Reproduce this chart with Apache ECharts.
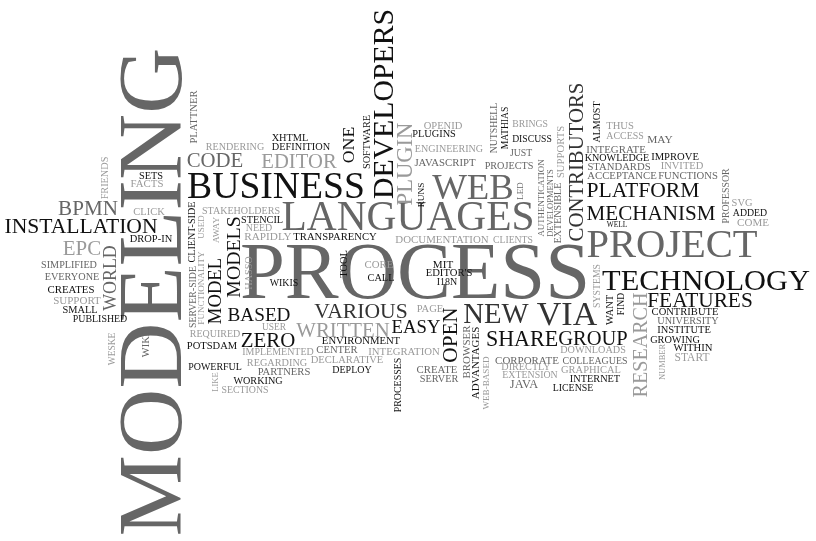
<!DOCTYPE html>
<html><head><meta charset="utf-8">
<script src="https://cdn.jsdelivr.net/npm/echarts@6/dist/echarts.min.js"></script>
<style>html,body{margin:0;padding:0;background:#fff}#c{width:816px;height:541px}</style>
</head><body><div id="c"></div>
<script>
// Word cloud terms
const words = [
 "MODELING","PROCESS","LANGUAGES","BUSINESS","DEVELOPERS","TECHNOLOGY","PROJECT","CONTRIBUTORS","WEB","INSTALLATION",
 "MECHANISM","PLATFORM","RESEARCH","FEATURES","NEW","VIA","VARIOUS","WRITTEN","EASY","OPEN",
 "SHARE","GROUP","ZERO","BASED","MODEL","MODELS","EDITOR","CODE","PLUGIN","ONE",
 "WORLD","EPC","BPMN","PLATTNER","RENDERING","XHTML","DEFINITION","SOFTWARE","OPENID","PLUGINS",
 "ENGINEERING","JAVASCRIPT","RUNS","NUTSHELL","MATHIAS","BRINGS","DISCUSS","JUST","PROJECTS","LED",
 "AUTHENTICATION","DEVELOPMENTS","EXTENSIBLE","SUPPORTS","ALMOST","THUS","ACCESS","MAY","INTEGRATE","KNOWLEDGE",
 "IMPROVE","STANDARDS","INVITED","ACCEPTANCE","FUNCTIONS","PROFESSOR","SVG","ADDED","COME","WELL",
 "SYSTEMS","WANT","FIND","CONTRIBUTE","UNIVERSITY","INSTITUTE","GROWING","WITHIN","START","NUMBER",
 "DOWNLOADS","COLLEAGUES","GRAPHICAL","INTERNET","LICENSE","CORPORATE","DIRECTLY","EXTENSION","JAVA","ADVANTAGES",
 "WEB-BASED","BROWSER","PAGE","ENVIRONMENT","CENTER","INTEGRATION","DECLARATIVE","DEPLOY","PROCESSES","CREATE",
 "SERVER","MIT","EDITOR'S","I18N","CORE","CALL","TOOL","WIKIS","TRANSPARENCY","DOCUMENTATION",
 "CLIENTS","STAKEHOLDERS","STENCIL","NEED","RAPIDLY","HASSO","AWAY","USED","CLIENT-SIDE","FUNCTIONALITY",
 "SERVER-SIDE","USER","REQUIRED","POTSDAM","IMPLEMENTED","POWERFUL","REGARDING","PARTNERS","WORKING","SECTIONS",
 "LIKE","WIKI","WESKE","FRIENDS","SETS","FACTS","CLICK","DROP-IN","SIMPLIFIED","EVERYONE",
 "CREATES","SUPPORT","SMALL","PUBLISHED"
];
// Layout of each word: [centre x, centre y, ink length, rotation, tone]
const layout = [
 [152,292,485,90,"M"],[415,272,344,0,"M"],[408,217,250,0,"M"],[276,186,175,0,"D"],[383,104,188,90,"D"],
 [706,280,207,0,"D"],[672,244,170,0,"M"],[576,162,157,90,"K"],[473,187,80,0,"M"],[81,226,152,0,"D"],
 [651,213,128,0,"D"],[643,190,112,0,"D"],[641,345,104,90,"L"],[700,300,104,0,"D"],[496,314,65,0,"K"],
 [567,314,60,0,"K"],[361,311,92,0,"K"],[343,330,93,0,"L"],[416,327,48,0,"D"],[450,335,54,90,"D"],
 [522,339,70,0,"D"],[593,338,68,0,"D"],[268,340,53,0,"D"],[259,315,62,0,"D"],[215,291,65,90,"D"],
 [234,257,80,90,"D"],[299,161,75,0,"L"],[215,160,55,0,"M"],[405,164,82,90,"L"],[348,145,35,90,"D"],
 [110,278,65,90,"M"],[82,248,37,0,"L"],[88,208,59,0,"M"],[194,117,53,90,"M"],[235,147,58,0,"L"],
 [290,138,36,0,"D"],[301,147,58,0,"D"],[367,142,53,90,"D"],[443,126,38,0,"L"],[434,134,43,0,"D"],
 [449,149,68,0,"L"],[445,163,61,0,"M"],[421,195,24,90,"D"],[494,128,50,90,"M"],[505,128,42,90,"D"],
 [530,124,35,0,"L"],[532,139,39,0,"D"],[521,153,22,0,"M"],[509,166,48,0,"M"],[520,191,17,90,"M"],
 [541,198,77,90,"M"],[550,203,67,90,"M"],[558,213,60,90,"M"],[561,152,51,90,"L"],[597,122,41,90,"D"],
 [620,126,27,0,"L"],[625,136,37,0,"L"],[660,139,25,0,"M"],[616,150,59,0,"M"],[617,158,64,0,"D"],
 [675,157,47,0,"D"],[619,167,62,0,"M"],[682,166,42,0,"L"],[622,176,69,0,"M"],[688,176,59,0,"M"],
 [726,196,55,90,"M"],[742,203,20,0,"L"],[750,213,34,0,"D"],[753,222,31,0,"L"],[617,225,20,0,"D"],
 [597,286,43,90,"L"],[610,310,30,90,"D"],[621,304,22,90,"D"],[685,312,66,0,"D"],[688,321,61,0,"M"],
 [684,330,53,0,"D"],[675,340,49,0,"D"],[693,348,39,0,"D"],[692,357,34,0,"L"],[662,362,36,90,"L"],
 [593,350,65,0,"L"],[595,361,64,0,"M"],[591,370,59,0,"L"],[595,379,50,0,"D"],[573,388,40,0,"D"],
 [527,360,63,0,"M"],[526,367,49,0,"L"],[530,375,55,0,"L"],[524,384,28,0,"M"],[475,363,72,90,"D"],
 [486,383,53,90,"L"],[466,352,53,90,"M"],[430,309,26,0,"L"],[361,341,78,0,"D"],[337,350,41,0,"M"],
 [404,352,71,0,"L"],[347,360,72,0,"L"],[352,370,39,0,"D"],[398,385,54,90,"D"],[437,370,40,0,"M"],
 [439,379,38,0,"M"],[443,264,20,0,"D"],[449,273,46,0,"D"],[447,282,20,0,"D"],[379,265,28,0,"L"],
 [381,278,26,0,"D"],[344,264,27,90,"D"],[284,283,28,0,"D"],[335,237,83,0,"D"],[442,240,93,0,"L"],
 [513,240,39,0,"L"],[241,211,77,0,"L"],[262,220,41,0,"D"],[259,228,26,0,"L"],[268,236,47,0,"L"],
 [249,273,33,90,"L"],[216,230,26,90,"L"],[201,227,23,90,"L"],[192,232,60,90,"D"],[201,288,73,90,"L"],
 [193,297,61,90,"M"],[274,327,24,0,"L"],[215,334,50,0,"L"],[212,346,50,0,"D"],[278,352,71,0,"L"],
 [215,367,53,0,"D"],[277,363,60,0,"L"],[284,372,52,0,"M"],[258,381,49,0,"D"],[245,390,46,0,"L"],
 [215,382,19,90,"L"],[146,345,24,90,"M"],[112,349,32,90,"L"],[105,178,42,90,"L"],[151,176,23,0,"D"],
 [147,184,32,0,"L"],[149,212,31,0,"L"],[151,239,42,0,"D"],[69,265,55,0,"M"],[72,277,54,0,"M"],
 [71,290,46,0,"D"],[77,300,47,0,"L"],[80,310,34,0,"D"],[100,319,54,0,"D"]
];
const tones = { D: "#111111", K: "#333333", M: "#666666", L: "#9a9a9a" };
const FONT = '"Liberation Serif", "DejaVu Serif", serif';

const ctx = document.createElement('canvas').getContext('2d');
ctx.font = '100px ' + FONT;
ctx.textBaseline = 'middle';
function inkWidth(t) {
  const m = ctx.measureText(t);
  const w = (m.actualBoundingBoxLeft || 0) + (m.actualBoundingBoxRight || 0);
  return (w > 0 ? w : m.width) / 100;
}
// offset (per px of font size) of the capital letters' centre from the em-box middle
const capM = ctx.measureText('H');
const capShift = ((capM.actualBoundingBoxDescent || 0) - (capM.actualBoundingBoxAscent || 0)) / 2 / 100;

const data = words.map((w, i) => {
  const [x, y, len, rot, tone] = layout[i];
  const size = Math.max(6, len / inkWidth(w));
  const d = -capShift * size; // move anchor so caps, not em box, are centred
  const px = rot === 90 ? x + d : x;
  const py = rot === 90 ? y : y + d;
  return {
    value: [px, py],
    label: {
      show: true, formatter: w, fontSize: size, rotate: rot,
      color: tones[tone], fontFamily: FONT, position: 'inside',
      align: 'center', verticalAlign: 'middle', opacity: 1
    }
  };
});

const chart = echarts.init(document.getElementById('c'), null, { renderer: 'canvas' });
chart.setOption({
  animation: false,
  backgroundColor: '#ffffff',
  grid: { left: 0, right: 0, top: 0, bottom: 0 },
  xAxis: { type: 'value', min: 0, max: 816, show: false },
  yAxis: { type: 'value', min: 0, max: 541, inverse: true, show: false },
  series: [{
    type: 'scatter', symbolSize: 1, itemStyle: { color: 'rgba(0,0,0,0)', opacity: 1 },
    silent: true, data: data
  }]
});
</script></body></html>
